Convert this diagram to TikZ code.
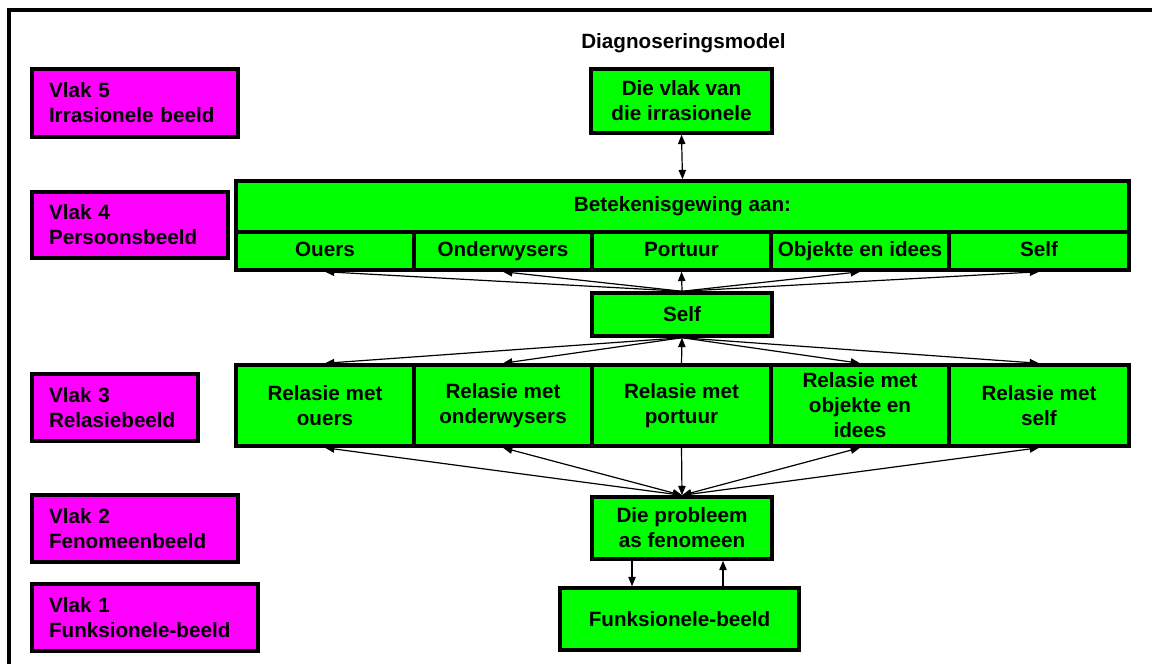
\documentclass[tikz,border=0pt]{standalone}
\usepackage{fontspec}
\setmainfont{Liberation Sans}
\usetikzlibrary{arrows.meta}
\definecolor{boxgreen}{RGB}{0,255,0}
\definecolor{boxmagenta}{RGB}{255,0,255}
\tikzset{
  txt/.style={font=\bfseries\fontsize{15.5}{18.75}\selectfont},
  gbox/.style={txt, draw=black, line width=2.6pt, fill=boxgreen, align=center, inner sep=0pt},
  cell/.style={gbox, text height=11.5pt, text depth=3.5pt},
  mbox/.style={txt, draw=black, line width=2.6pt, fill=boxmagenta, align=left, inner xsep=12.75pt, inner ysep=0pt},
  tip/.tip={Triangle[length=7pt,width=5.5pt]},
  arr/.style={line width=0.9pt, -tip},
  arrboth/.style={line width=0.9pt, tip-tip},
}
\begin{document}
\begin{tikzpicture}[x=0.75pt, y=-0.75pt]
\useasboundingbox (0,0) rectangle (1152,664);
% open frame
\draw[line width=2.4pt] (9,664) -- (9,10) -- (1152,10);

% title
\node[txt] (title) at (683.5,43) {Diagnoseringsmodel};

% level labels
\node[mbox, text width=129pt, minimum height=51pt] (v5) at (135,103) {Vlak 5\\Irrasionele beeld};
\node[mbox, text width=121.5pt, minimum height=49.5pt] (v4) at (130,225) {Vlak 4\\Persoonsbeeld};
\node[mbox, text width=99pt, minimum height=50.25pt] (v3) at (115,407.5) {Vlak 3\\Relasiebeeld};
\node[mbox, text width=129pt, minimum height=50.25pt] (v2) at (135,528.5) {Vlak 2\\Fenomeenbeeld};
\node[mbox, text width=144pt, minimum height=50.25pt] (v1) at (145,617.5) {Vlak 1\\Funksionele-beeld};

% level 5
\node[gbox, minimum width=135.75pt, minimum height=48pt] (irr) at (681.5,101) {Die vlak van\\die irrasionele};

% level 4
\node[gbox, minimum width=669.75pt, minimum height=38.25pt] (bet) at (682.5,206.5) {Betekenisgewing aan:};
\node[cell, minimum width=133.5pt, minimum height=28.5pt] (p1) at (325,251) {Ouers};
\node[cell, minimum width=133.5pt, minimum height=28.5pt] (p2) at (503,251) {Onderwysers};
\node[cell, minimum width=134.25pt, minimum height=28.5pt] (p3) at (681.5,251) {Portuur};
\node[cell, minimum width=133.5pt, minimum height=28.5pt] (p4) at (860,251) {Objekte en idees};
\node[cell, minimum width=135pt, minimum height=28.5pt] (p5) at (1039,251) {Self};

% self
\node[gbox, minimum width=135pt, minimum height=32.25pt] (self) at (682,314.5) {Self};

% level 3
\node[gbox, minimum width=133.5pt, minimum height=60.75pt] (r1) at (325,405.5) {Relasie met\\ouers};
\node[gbox, minimum width=133.5pt, minimum height=60.75pt] (r2) at (503,405.5) {Relasie met\\onderwysers};
\node[gbox, minimum width=134.25pt, minimum height=60.75pt] (r3) at (681.5,405.5) {Relasie met\\portuur};
\node[gbox, minimum width=133.5pt, minimum height=60.75pt] (r4) at (860,405.5) {Relasie met\\objekte en\\idees};
\node[gbox, minimum width=135pt, minimum height=60.75pt] (r5) at (1039,405.5) {Relasie met\\self};

% level 2 and 1
\node[gbox, minimum width=135pt, minimum height=46.5pt] (prob) at (682,528) {Die probleem\\as fenomeen};
\node[gbox, minimum width=179.25pt, minimum height=46.5pt] (funk) at (679.5,619) {Funksionele-beeld};

% connectors
\draw[arrboth] (irr.south) -- (bet.north);

\foreach \p in {p1,p2,p3,p4,p5}
  \draw[arr] (self.north) -- (\p.south);

\foreach \r in {r1,r2,r4,r5}
  \draw[arr] (self.south) -- (\r.north);
\draw[arr] (r3.north) -- (self.south);

\foreach \r in {r1,r2,r4,r5}
  \draw[arrboth] (\r.south) -- (prob.north);
\draw[arr] (r3.south) -- (prob.north);

\draw[arr] ([xshift=-37.5pt]prob.south) -- ([xshift=-35.625pt]funk.north);
\draw[arr] ([xshift=32.625pt]funk.north) -- ([xshift=30.75pt]prob.south);
\end{tikzpicture}
\end{document}
